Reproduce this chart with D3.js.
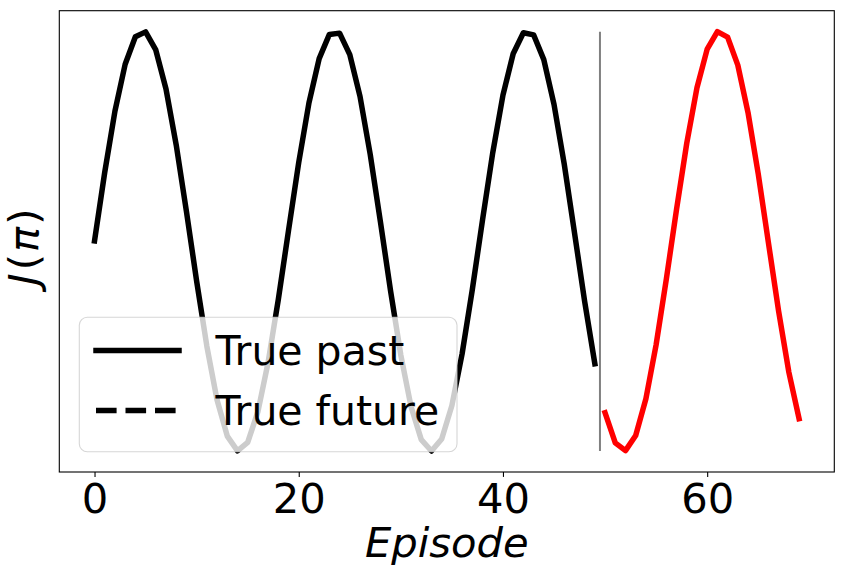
<!DOCTYPE html>
<html>
<head>
<meta charset="utf-8">
<script src="https://cdn.jsdelivr.net/npm/d3@7/dist/d3.min.js"></script>
<style>
  body { margin: 0; background: #fff; }
  text { font-family: "DejaVu Sans", sans-serif; }
</style>
</head>
<body>
<svg id="chart" width="843" height="580"></svg>
<script>
// ---- data ----
const pastEpisodes = d3.range(0, 50);
const pastValues = [0.000, 0.327, 0.618, 0.841, 0.972, 0.995, 0.909, 0.723, 0.457, 0.141,
  -0.191, -0.501, -0.757, -0.929, -0.999, -0.959, -0.813, -0.578, -0.279, 0.050,
  0.374, 0.657, 0.868, 0.983, 0.989, 0.887, 0.688, 0.412, 0.091, -0.240,
  -0.544, -0.789, -0.946, -1.000, -0.943, -0.783, -0.537, -0.231, 0.100, 0.420,
  0.694, 0.891, 0.991, 0.981, 0.863, 0.650, 0.366, 0.041, -0.288, -0.585];
const futureEpisodes = d3.range(50, 70);
const futureValues = [-0.818, -0.961, -0.998, -0.926, -0.751, -0.494, -0.182, 0.150, 0.465, 0.729,
  0.913, 0.996, 0.970, 0.837, 0.611, 0.319, -0.009, -0.335, -0.625, -0.846];
const splitEpisode = 49.5;
const splitRange = [-1.000, 0.996];
const xTicks = [0, 20, 40, 60];
const legendLabels = ["True past", "True future"];

// ---- layout ----
const svg = d3.select("#chart");
const L = 59.3, R = 834.3, T = 10.7, B = 472;
const allVals = pastValues.concat(futureValues);
const yMin = d3.min(allVals), yMax = d3.max(allVals);
const yPad = (yMax - yMin) * 0.05;
const xPad = 69 * 0.05;
const x = d3.scaleLinear().domain([0 - xPad, 69 + xPad]).range([L, R]);
const y = d3.scaleLinear().domain([yMin - yPad, yMax + yPad]).range([B, T]);

const line = d3.line().x(d => x(d[0])).y(d => y(d[1]));

svg.append("path")
  .datum(pastEpisodes.map((e, i) => [e, pastValues[i]]))
  .attr("d", line).attr("fill", "none").attr("stroke", "#000")
  .attr("stroke-width", 5.5).attr("stroke-linejoin", "round").attr("stroke-linecap", "square");

svg.append("path")
  .datum(futureEpisodes.map((e, i) => [e, futureValues[i]]))
  .attr("d", line).attr("fill", "none").attr("stroke", "#ff0000")
  .attr("stroke-width", 5.5).attr("stroke-linejoin", "round").attr("stroke-linecap", "square");

svg.append("line")
  .attr("x1", x(splitEpisode)).attr("x2", x(splitEpisode))
  .attr("y1", y(splitRange[0])).attr("y2", y(splitRange[1]))
  .attr("stroke", "#808080").attr("stroke-width", 2);

// ---- axes frame ----
svg.append("rect").attr("x", L).attr("y", T).attr("width", R - L).attr("height", B - T)
  .attr("fill", "none").attr("stroke", "#000").attr("stroke-width", 1.1);

const xAxis = d3.axisBottom(x).tickValues(xTicks).tickSize(4.9).tickPadding(5).tickFormat(d3.format("d"));
const gx = svg.append("g").attr("transform", `translate(0,${B})`).call(xAxis);
gx.select(".domain").remove();
gx.selectAll(".tick line").attr("stroke", "#000").attr("stroke-width", 1.1);
gx.selectAll(".tick text").attr("font-size", "41.67px").attr("fill", "#000")
  .attr("font-family", "DejaVu Sans").attr("dy", null).attr("y", 40.5);

// ---- axis labels ----
svg.append("text").attr("x", (L + R) / 2).attr("y", 557)
  .attr("text-anchor", "middle").attr("font-size", "41.67px").attr("font-style", "italic")
  .text("Episode");

const yl = svg.append("text")
  .attr("transform", "translate(38,247) rotate(-90)")
  .attr("text-anchor", "middle").attr("font-size", "41.67px");
yl.append("tspan").attr("font-style", "italic").text("J");
yl.append("tspan").attr("dx", 3).text("(");
yl.append("tspan").attr("dx", 2).attr("font-style", "italic").text("π");
yl.append("tspan").attr("dx", 2).text(")");

// ---- legend ----
const lg = svg.append("g");
lg.append("rect").attr("x", 79.3).attr("y", 317.3).attr("width", 377.7).attr("height", 134.4)
  .attr("rx", 8).attr("ry", 8)
  .attr("fill", "#fff").attr("fill-opacity", 0.8)
  .attr("stroke", "#cccccc").attr("stroke-opacity", 0.8).attr("stroke-width", 1.1);
const legendRows = [350.5, 410.5];
legendLabels.forEach((lab, i) => {
  const ln = lg.append("line").attr("x1", 96).attr("x2", 179)
    .attr("y1", legendRows[i]).attr("y2", legendRows[i])
    .attr("stroke", "#000").attr("stroke-width", 5.5);
  if (i === 0) ln.attr("stroke-linecap", "square");
  else ln.attr("stroke-dasharray", "20.6,8.9").attr("stroke-linecap", "butt");
  lg.append("text").attr("x", 215.5).attr("y", legendRows[i] + 14.5)
    .attr("font-size", "41px").text(lab);
});
</script>
</body>
</html>
